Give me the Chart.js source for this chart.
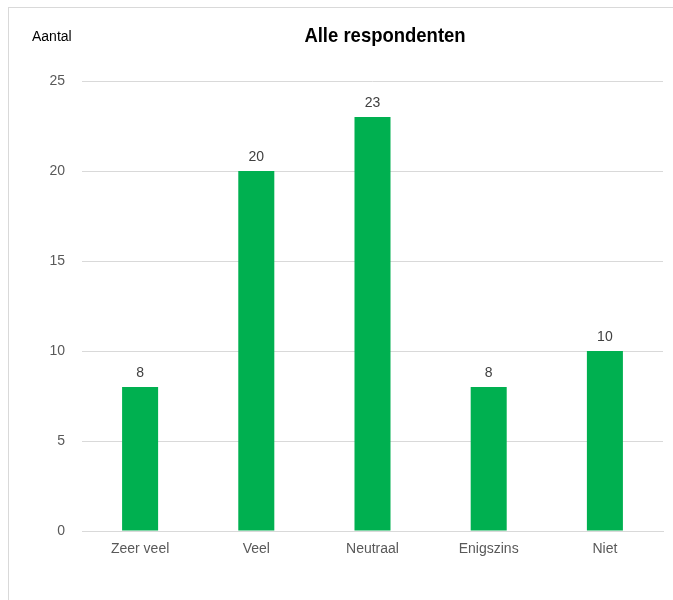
<!DOCTYPE html>
<html>
<head>
<meta charset="utf-8">
<script src="https://cdn.jsdelivr.net/npm/chart.js@4"></script>
<style>
  html, body { margin: 0; padding: 0; background: #fff; }
  #wrap { position: relative; width: 673px; height: 600px; }
  #frame {
    position: absolute; left: 8px; top: 7px; right: 0; bottom: 0;
    border-left: 1px solid #d9d9d9; border-top: 1px solid #d9d9d9;
  }
  canvas { position: absolute; left: 0; top: 0; }
</style>
</head>
<body>
<div id="wrap">
  <div id="frame"></div>
  <canvas id="chart" width="673" height="600"></canvas>
</div>
<script>
const categories = ["Zeer veel", "Veel", "Neutraal", "Enigszins", "Niet"];
const counts = [8, 20, 23, 8, 10];
const yTicks = [0, 5, 10, 15, 20, 25];

const titleText = "Alle respondenten";
const axisTitle = "Aantal";

const font = "'Liberation Sans', Arial, sans-serif";

// titel en aslabel zelf tekenen
const headerPlugin = {
  id: "header",
  afterDraw(chart) {
    const ctx = chart.ctx;
    ctx.save();
    ctx.fillStyle = "#000";
    ctx.textBaseline = "middle";
    ctx.textAlign = "center";
    // smalle letter nabootsen
    ctx.save();
    ctx.translate(385, 36);
    ctx.scale(0.88, 1);
    ctx.font = "bold 21px " + font;
    ctx.fillText(titleText, 0, 0);
    ctx.restore();
    ctx.textAlign = "left";
    ctx.font = "14px " + font;
    ctx.fillText(axisTitle, 32, 37);
    ctx.restore();
  },
};

// waarden boven de staven
const valueLabels = {
  id: "valueLabels",
  afterDatasetsDraw(chart) {
    const ctx = chart.ctx;
    ctx.save();
    ctx.fillStyle = "#404040";
    ctx.font = "14px " + font;
    ctx.textAlign = "center";
    ctx.textBaseline = "middle";
    chart.getDatasetMeta(0).data.forEach((bar, i) => {
      ctx.fillText(String(counts[i]), bar.x, bar.y - 14);
    });
    ctx.restore();
  },
};

new Chart(document.getElementById("chart"), {
  type: "bar",
  data: {
    labels: categories,
    datasets: [
      {
        data: counts,
        backgroundColor: "#00b050",
        categoryPercentage: 1,
        barPercentage: 0.31,
      },
    ],
  },
  options: {
    responsive: false,
    animation: false,
    layout: { padding: { top: 81, right: 10, left: 0, bottom: 0 } },
    plugins: {
      legend: { display: false },
      title: { display: false },
      tooltip: { enabled: false },
    },
    scales: {
      x: {
        grid: { display: false, drawTicks: false },
        border: { display: true, color: "#d9d9d9" },
        ticks: {
          color: "#595959",
          padding: 10,
          font: { family: font, size: 14 },
        },
        afterFit: (s) => { s.height = 69; },
      },
      y: {
        min: 0,
        max: 25,
        afterBuildTicks: (s) => { s.ticks = yTicks.map((v) => ({ value: v })); },
        grid: { color: "#d9d9d9", drawTicks: false },
        border: { display: false },
        ticks: {
          color: "#595959",
          padding: 17,
          font: { family: font, size: 14 },
        },
        afterFit: (s) => { s.width = 82; },
      },
    },
  },
  plugins: [headerPlugin, valueLabels],
});
</script>
</body>
</html>
